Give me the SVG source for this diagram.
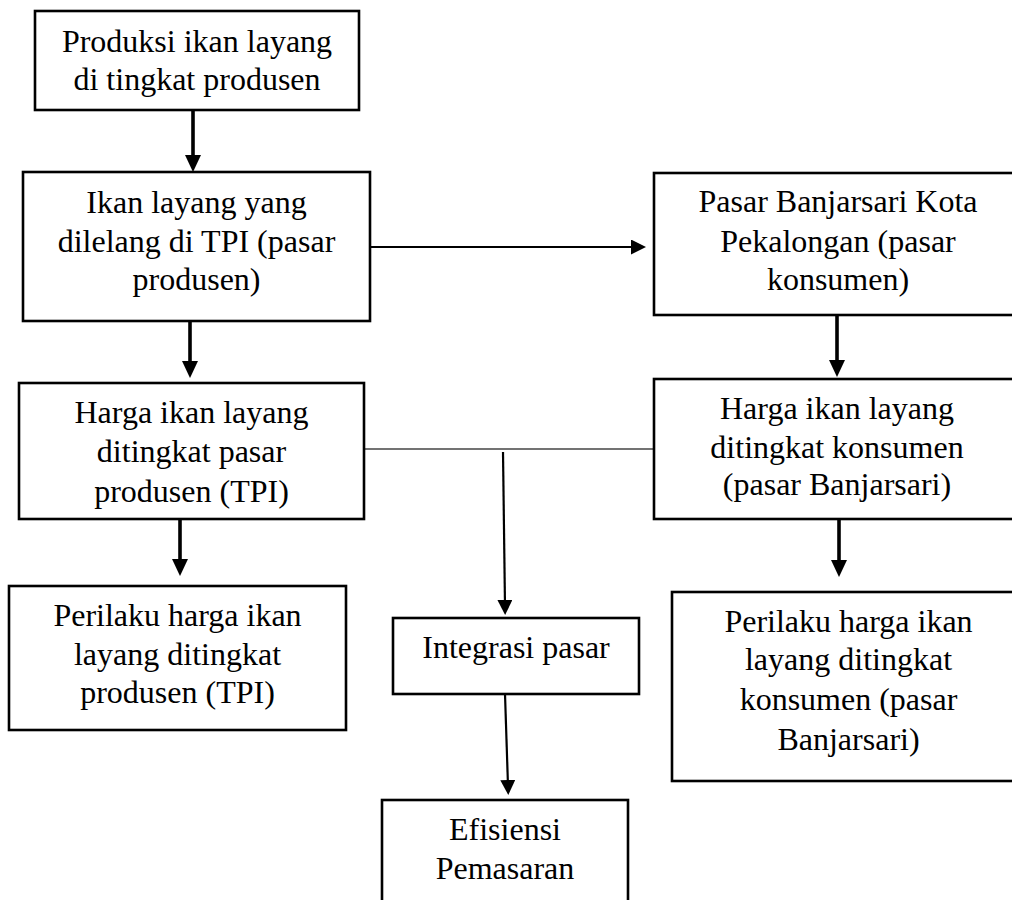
<svg xmlns="http://www.w3.org/2000/svg" width="1012" height="900" viewBox="0 0 1012 900">
<style>
.box{fill:#fff;stroke:#000;stroke-width:2.6}
.t{font-family:"Liberation Serif","Times New Roman",serif;font-size:32px;fill:#000;text-anchor:middle}
.thick{stroke:#000;stroke-width:3.6;fill:none}
.med{stroke:#000;stroke-width:2.2;fill:none}
.thin{stroke:#444;stroke-width:1.3;fill:none}
</style>
<defs>
<marker id="ah" markerUnits="userSpaceOnUse" markerWidth="17" markerHeight="16" refX="7" refY="8" orient="auto">
<path d="M0,0 L17,8 L0,16 z" fill="#000"/>
</marker>
<marker id="ahs" markerUnits="userSpaceOnUse" markerWidth="15" markerHeight="15" refX="6" refY="7.5" orient="auto">
<path d="M0,0 L15,7.5 L0,15 z" fill="#000"/>
</marker>
</defs>
<rect width="1012" height="900" fill="#fff"/>
<g id="connectors">
<line class="thick" x1="193" y1="110" x2="193" y2="162" marker-end="url(#ah)"/>
<line class="thick" x1="190" y1="321" x2="190" y2="368" marker-end="url(#ah)"/>
<line class="thick" x1="180" y1="519" x2="180" y2="566" marker-end="url(#ah)"/>
<line class="thick" x1="837" y1="315" x2="837" y2="367" marker-end="url(#ah)"/>
<line class="thick" x1="839" y1="519" x2="839" y2="567" marker-end="url(#ah)"/>
<line class="med" x1="366" y1="247" x2="637" y2="247" marker-end="url(#ahs)"/>
<line class="thin" x1="362" y1="449" x2="662" y2="449"/>
<line class="med" x1="503" y1="452" x2="505" y2="606" marker-end="url(#ahs)"/>
<line class="med" x1="505" y1="694" x2="508" y2="786" marker-end="url(#ahs)"/>
</g>
<g id="n1">
<rect class="box" x="35" y="11" width="324" height="99"/>
<text class="t" x="197" y="52">Produksi ikan layang</text>
<text class="t" x="197" y="90">di tingkat produsen</text>
</g>
<g id="n2">
<rect class="box" x="23" y="172" width="347" height="149"/>
<text class="t" x="196.5" y="213">Ikan layang yang</text>
<text class="t" x="196.5" y="252">dilelang di TPI (pasar</text>
<text class="t" x="196.5" y="290">produsen)</text>
</g>
<g id="n3">
<rect class="box" x="654" y="173" width="368" height="142"/>
<text class="t" x="838" y="212">Pasar Banjarsari Kota</text>
<text class="t" x="838" y="252">Pekalongan (pasar</text>
<text class="t" x="838" y="290">konsumen)</text>
</g>
<g id="n4">
<rect class="box" x="654" y="379" width="368" height="140"/>
<text class="t" x="837" y="419">Harga ikan layang</text>
<text class="t" x="837" y="458">ditingkat konsumen</text>
<text class="t" x="837" y="495">(pasar Banjarsari)</text>
</g>
<g id="n5">
<rect class="box" x="19" y="383" width="345" height="136"/>
<text class="t" x="191.5" y="423">Harga ikan layang</text>
<text class="t" x="191.5" y="462">ditingkat pasar</text>
<text class="t" x="191.5" y="502">produsen (TPI)</text>
</g>
<g id="n6">
<rect class="box" x="672" y="592" width="353" height="189"/>
<text class="t" x="848.5" y="632">Perilaku harga ikan</text>
<text class="t" x="848.5" y="670">layang ditingkat</text>
<text class="t" x="848.5" y="710">konsumen (pasar</text>
<text class="t" x="848.5" y="750">Banjarsari)</text>
</g>
<g id="n7">
<rect class="box" x="9" y="586" width="337" height="144"/>
<text class="t" x="177.5" y="626">Perilaku harga ikan</text>
<text class="t" x="177.5" y="665">layang ditingkat</text>
<text class="t" x="177.5" y="703">produsen (TPI)</text>
</g>
<g id="n8">
<rect class="box" x="393" y="618" width="246" height="76"/>
<text class="t" x="516" y="658">Integrasi pasar</text>
</g>
<g id="n9">
<rect class="box" x="382" y="800" width="246" height="130"/>
<text class="t" x="505" y="840">Efisiensi</text>
<text class="t" x="505" y="879">Pemasaran</text>
</g>
</svg>
